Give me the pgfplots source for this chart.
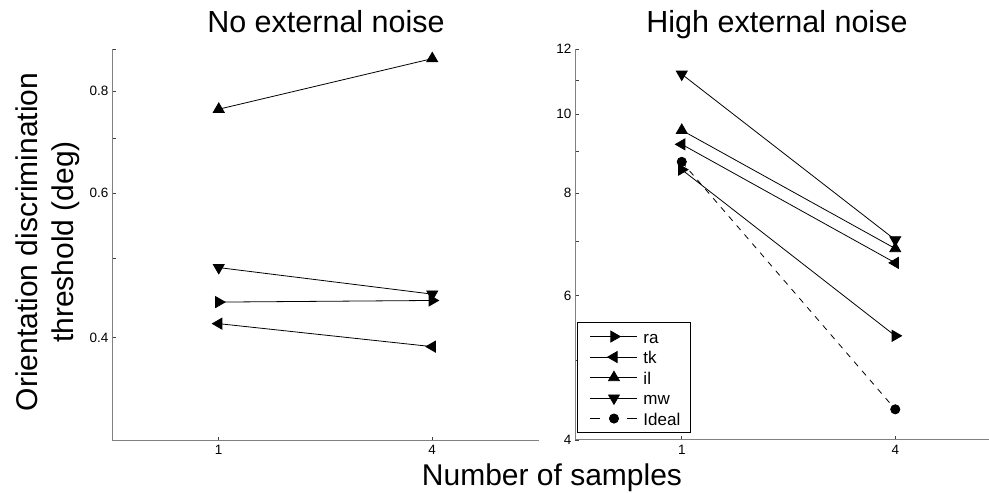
\documentclass[border=0pt]{standalone}
\usepackage{fontspec}
\setmainfont{Liberation Sans}
\usepackage{pgfplots}
\pgfplotsset{compat=1.18}
\pgfplotsset{
  myax/.style={
    scale only axis, height=391pt,
    anchor=south west,
    axis x line*=bottom, axis y line*=left,
    axis line style={black!50, line width=1pt},
    tick align=inside,
    major tick length=3.5pt, minor tick length=3.5pt,
    every tick/.style={black!75, line width=0.6pt},
    xmin=-0.5, xtick={0,1}, xticklabels={\mbox{1},\mbox{4}},
    ticklabel style={font=\fontsize{13.5}{13.5}\selectfont},
    xticklabel style={yshift=-1.5pt},
    clip=false,
    every axis plot/.append style={black, line width=0.8pt, mark size=6.3pt},
    legend image code/.code={\path[draw=none,fill=none] (-5pt,0pt) (51pt,0pt);
      \draw[mark repeat=2,mark phase=2,##1] plot coordinates {(0pt,0pt) (23.5pt,0pt) (47pt,0pt)};},
  },
}
\begin{document}
\begin{tikzpicture}[x=1pt,y=1pt]
\path[use as bounding box] (0,0) rectangle (989,493);
\begin{axis}[ymode=log, myax, at={(112pt,53pt)}, width=427pt, xmax=1.5,
  ymin=0.3, ymax=0.9, ytick={0.4,0.6,0.8}, yticklabels={\mbox{0.4},\mbox{0.6},\mbox{0.8}},
  minor ytick={0.3,0.5,0.7,0.9}]
\addplot[mark=triangle*, mark options={rotate=-90}] coordinates {(0,0.442) (1,0.444)};
\addplot[mark=triangle*, mark options={rotate=90}] coordinates {(0,0.416) (1,0.390)};
\addplot[mark=triangle*] coordinates {(0,0.760) (1,0.876)};
\addplot[mark=triangle*, mark options={rotate=180}] coordinates {(0,0.487) (1,0.452)};
\end{axis}
\begin{axis}[ymode=log, myax, at={(575pt,53pt)}, width=414pt, xmax=1.439,
  ymin=4, ymax=12, ytick={4,6,8,10,12}, yticklabels={\mbox{4},\mbox{6},\mbox{8},\mbox{10},\mbox{12}},
  minor ytick={5,7,9,11},
  legend style={at={(0.005,0.018)}, anchor=south west, draw=black, line width=0.8pt,
    font=\fontsize{17}{17}\selectfont, inner xsep=8pt, inner ysep=4pt, row sep=0.5pt,
    cells={inner sep=0pt, text height=14.5pt, text depth=2.5pt}},
  legend cell align=left]
\addplot[mark=triangle*, mark options={rotate=-90}] coordinates {(0,8.55) (1,5.36)};
\addlegendentry{ra}
\addplot[mark=triangle*, mark options={rotate=90}] coordinates {(0,9.18) (1,6.58)};
\addlegendentry{tk}
\addplot[mark=triangle*] coordinates {(0,9.55) (1,6.85)};
\addlegendentry{il}
\addplot[mark=triangle*, mark options={rotate=180}] coordinates {(0,11.18) (1,7.02)};
\addlegendentry{mw}
\addplot[dash pattern=on 6pt off 6pt, mark=*, mark size=4.6pt, mark options={solid},
  legend image post style={dash pattern=on 10pt off 27pt on 10pt off 0pt}] coordinates {(0,8.74) (1,4.36)};
\addlegendentry{Ideal}
\end{axis}
\node[font=\fontsize{30.5}{30.5}\selectfont, anchor=base] at (326,460) {No external noise};
\node[font=\fontsize{30.5}{30.5}\selectfont, anchor=base] at (777,460) {High external noise};
\node[font=\fontsize{30}{30}\selectfont, anchor=base] at (552,7) {Number of samples};
\node[font=\fontsize{30}{30}\selectfont, anchor=base, rotate=90] at (38,251) {Orientation discrimination};
\node[font=\fontsize{30}{30}\selectfont, anchor=base, rotate=90] at (73,251) {threshold (deg)};
\end{tikzpicture}
\end{document}
